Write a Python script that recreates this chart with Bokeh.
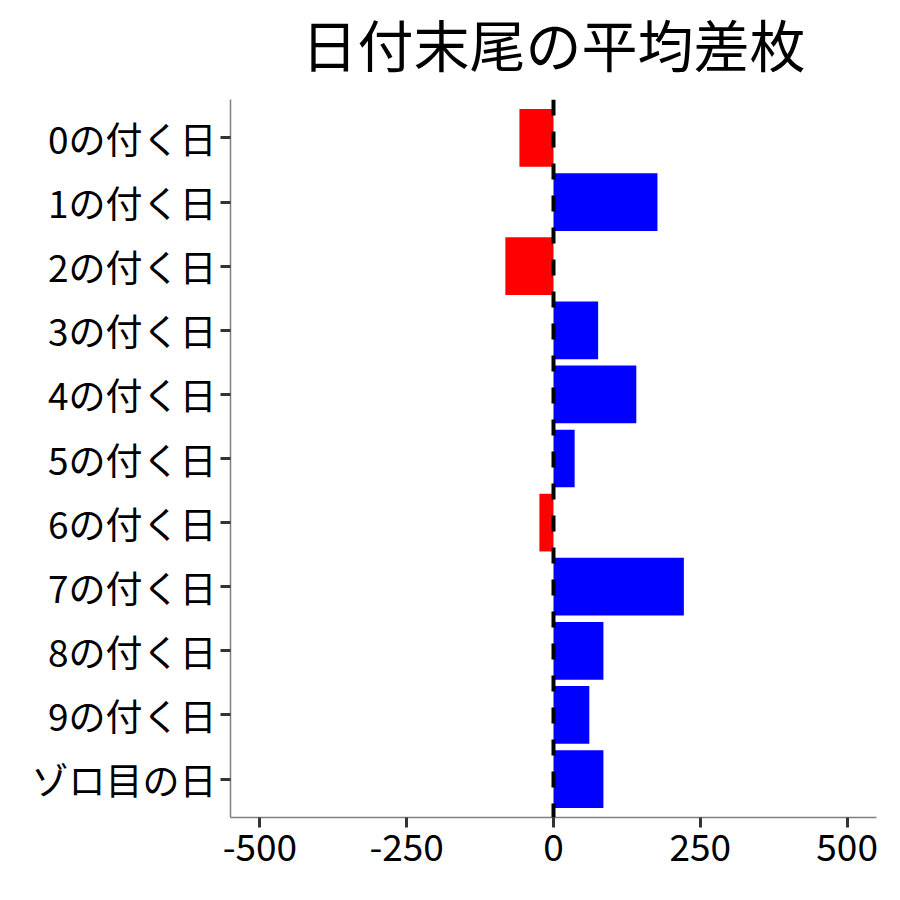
from bokeh.plotting import figure
from bokeh.models import FactorRange, Range1d, Span, FixedTicker, ColumnDataSource
from bokeh.embed import file_html
from bokeh.resources import INLINE

categories = ["0の付く日", "1の付く日", "2の付く日", "3の付く日", "4の付く日",
              "5の付く日", "6の付く日", "7の付く日", "8の付く日", "9の付く日", "ゾロ目の日"]
values = [-58, 177, -82, 76, 141, 36, -24, 222, 85, 61, 85]
x_ticks = [-500, -250, 0, 250, 500]
x_tick_labels = ["-500", "-250", "0", "250", "500"]
title_text = "日付末尾の平均差枚"

FONT = "Noto Sans CJK JP"

colors = ["#FF0000" if v < 0 else "#0000FF" for v in values]
src = ColumnDataSource(dict(cat=categories, val=values, zero=[0] * len(values), color=colors))

factors = list(reversed(categories))
p = figure(
    y_range=FactorRange(factors=factors, range_padding=0.1, range_padding_units="absolute"),
    x_range=Range1d(-550, 550),
    frame_width=646, frame_height=718,
    min_border_left=230, min_border_right=16, min_border_top=100, min_border_bottom=74,
    output_backend="svg", toolbar_location=None,
    title=title_text,
    margin=(-17, 0, 0, 0),
)
p.hbar(y="cat", left="zero", right="val", height=0.9, fill_color="color", line_color=None, source=src)

p.add_layout(Span(location=0, dimension="height", line_color="black", line_width=4, line_dash="16 16"))

p.title.text_font = FONT
p.title.text_font_size = "56px"
p.title.text_font_style = "normal"
p.title.align = "center"
p.title.text_color = "black"
p.title.standoff = 33

p.outline_line_color = None
p.xgrid.visible = False
p.ygrid.visible = False
p.background_fill_color = "white"
p.border_fill_color = "white"

p.xaxis.ticker = FixedTicker(ticks=x_ticks)
p.xaxis.major_label_overrides = {t: s for t, s in zip(x_ticks, x_tick_labels)}
for ax in (p.xaxis, p.yaxis):
    ax.axis_line_color = "#808080"
    ax.axis_line_width = 1.5
    ax.major_tick_line_color = "#333333"
    ax.major_tick_line_width = 3
    ax.major_tick_out = 10
    ax.major_tick_in = 0
    ax.minor_tick_line_color = None
    ax.major_label_text_font = FONT
    ax.major_label_text_font_size = "37px"
    ax.major_label_text_color = "black"
p.yaxis.major_label_standoff = 4
p.xaxis.major_label_standoff = 6

open("out.html", "w").write(file_html(p, INLINE))
